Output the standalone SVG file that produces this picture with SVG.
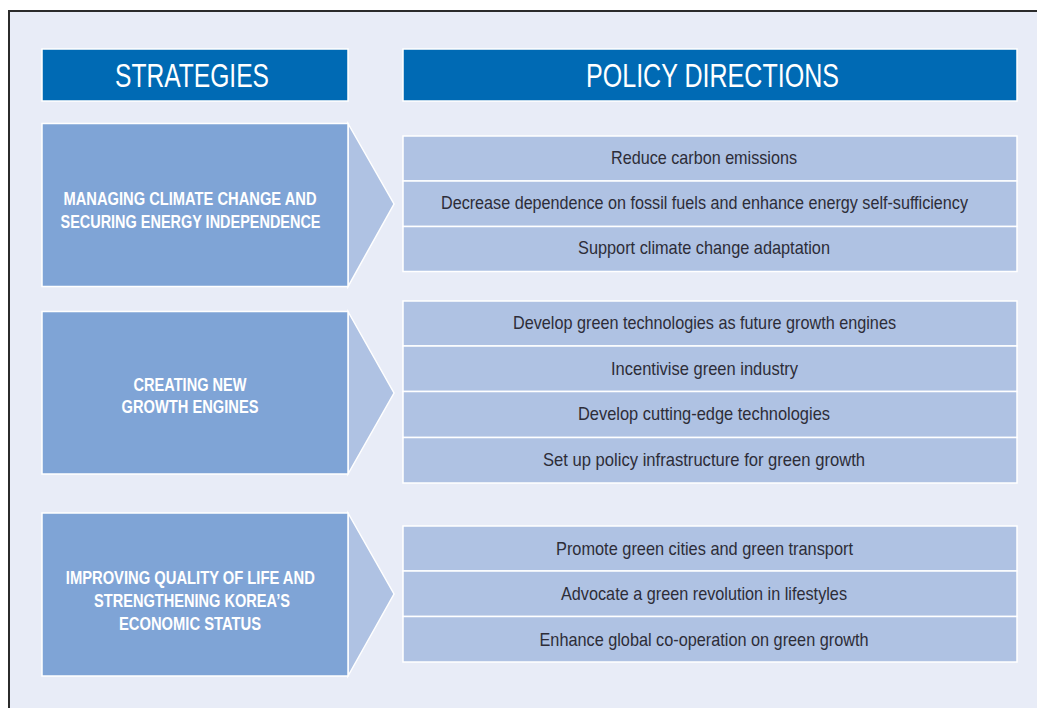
<svg xmlns="http://www.w3.org/2000/svg" width="1037" height="708" viewBox="0 0 1037 708">
<style>
.hdr{fill:#006ab4;stroke:#ffffff;stroke-width:1.5}
.strat{fill:#7fa4d6;stroke:#ffffff;stroke-width:1.5}
.pol{fill:#afc2e3;stroke:#ffffff;stroke-width:1.5}
.arr{fill:#afc2e3;stroke:#ffffff;stroke-width:1.5;stroke-linejoin:miter}
.ht{font-family:"Liberation Sans Narrow","Liberation Sans",Arial,sans-serif;font-size:33.5px;fill:#ffffff;text-anchor:middle}
.st{font-family:"Liberation Sans Narrow","Liberation Sans",Arial,sans-serif;font-size:18.5px;font-weight:bold;fill:#ffffff;text-anchor:middle}
.pt{font-family:"Liberation Sans Narrow","Liberation Sans",Arial,sans-serif;font-size:18.5px;fill:#2d2d38;text-anchor:middle}
.ptl{font-size:17.5px}
</style>
<rect x="0" y="0" width="1037" height="708" fill="#ffffff"/>
<rect x="9" y="11" width="1028" height="697" fill="#e8ecf7"/>
<path d="M9,708 V11 H1037" fill="none" stroke="#2b2b2b" stroke-width="2"/>

<g id="header-strategies">
<rect class="hdr" x="42" y="49" width="306" height="52"/>
<text class="ht" x="192" y="87" textLength="154" lengthAdjust="spacingAndGlyphs">STRATEGIES</text>
</g>
<g id="header-policy">
<rect class="hdr" x="403" y="49" width="614" height="52"/>
<text class="ht" x="712.5" y="87" textLength="253" lengthAdjust="spacingAndGlyphs">POLICY DIRECTIONS</text>
</g>

<g id="connectors">
<polygon class="arr" points="348,123.5 394,204 348,286.5"/>
<polygon class="arr" points="348,311.5 394,393 348,474"/>
<polygon class="arr" points="348,513 394,594 348,676"/>
</g>

<g id="strategy-1">
<rect class="strat" x="42" y="123.5" width="306" height="163"/>
<text class="st" x="190" y="205" textLength="253" lengthAdjust="spacingAndGlyphs">MANAGING CLIMATE CHANGE AND</text>
<text class="st" x="190.5" y="228.3" textLength="260" lengthAdjust="spacingAndGlyphs">SECURING ENERGY INDEPENDENCE</text>
</g>
<g id="strategy-2">
<rect class="strat" x="42" y="311.5" width="306" height="162.5"/>
<text class="st" x="190" y="390.7" textLength="113" lengthAdjust="spacingAndGlyphs">CREATING NEW</text>
<text class="st" x="190" y="413.3" textLength="137" lengthAdjust="spacingAndGlyphs">GROWTH ENGINES</text>
</g>
<g id="strategy-3">
<rect class="strat" x="42" y="513" width="306" height="163"/>
<text class="st" x="190.3" y="584" textLength="249" lengthAdjust="spacingAndGlyphs">IMPROVING QUALITY OF LIFE AND</text>
<text class="st" x="192" y="607.3" textLength="196" lengthAdjust="spacingAndGlyphs">STRENGTHENING KOREA’S</text>
<text class="st" x="190" y="630" textLength="142" lengthAdjust="spacingAndGlyphs">ECONOMIC STATUS</text>
</g>

<g id="policy-1-1">
<rect class="pol" x="403" y="136" width="614" height="45"/>
<text class="pt" x="704" y="164" textLength="186" lengthAdjust="spacingAndGlyphs">Reduce carbon emissions</text>
</g>
<g id="policy-1-2">
<rect class="pol" x="403" y="181" width="614" height="45.5"/>
<text class="pt ptl" x="704.5" y="209.3" textLength="527" lengthAdjust="spacingAndGlyphs">Decrease dependence on fossil fuels and enhance energy self-sufficiency</text>
</g>
<g id="policy-1-3">
<rect class="pol" x="403" y="226.5" width="614" height="45"/>
<text class="pt" x="704" y="254" textLength="252" lengthAdjust="spacingAndGlyphs">Support climate change adaptation</text>
</g>

<g id="policy-2-1">
<rect class="pol" x="403" y="301" width="614" height="45"/>
<text class="pt" x="704.5" y="328.5" textLength="383" lengthAdjust="spacingAndGlyphs">Develop green technologies as future growth engines</text>
</g>
<g id="policy-2-2">
<rect class="pol" x="403" y="346" width="614" height="45.5"/>
<text class="pt" x="704.5" y="374.5" textLength="187" lengthAdjust="spacingAndGlyphs">Incentivise green industry</text>
</g>
<g id="policy-2-3">
<rect class="pol" x="403" y="391.5" width="614" height="46"/>
<text class="pt" x="704" y="420.3" textLength="252" lengthAdjust="spacingAndGlyphs">Develop cutting-edge technologies</text>
</g>
<g id="policy-2-4">
<rect class="pol" x="403" y="437.5" width="614" height="45.5"/>
<text class="pt" x="704" y="466.3" textLength="322" lengthAdjust="spacingAndGlyphs">Set up policy infrastructure for green growth</text>
</g>

<g id="policy-3-1">
<rect class="pol" x="403" y="526" width="614" height="45"/>
<text class="pt" x="704.5" y="554.8" textLength="297" lengthAdjust="spacingAndGlyphs">Promote green cities and green transport</text>
</g>
<g id="policy-3-2">
<rect class="pol" x="403" y="571" width="614" height="45.5"/>
<text class="pt" x="704" y="600" textLength="286" lengthAdjust="spacingAndGlyphs">Advocate a green revolution in lifestyles</text>
</g>
<g id="policy-3-3">
<rect class="pol" x="403" y="616.5" width="614" height="45.5"/>
<text class="pt" x="704" y="645.8" textLength="329" lengthAdjust="spacingAndGlyphs">Enhance global co-operation on green growth</text>
</g>
</svg>
